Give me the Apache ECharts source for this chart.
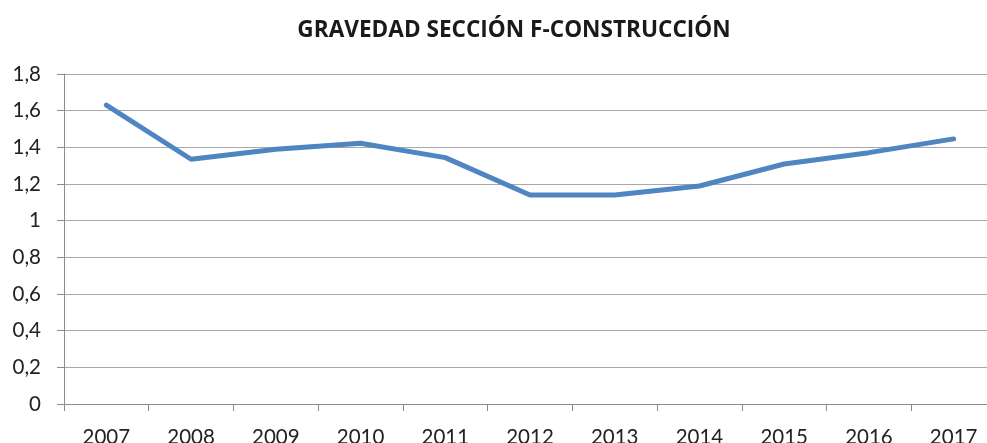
<!DOCTYPE html>
<html>
<head>
<meta charset="utf-8">
<script src="https://cdn.jsdelivr.net/npm/echarts@6/dist/echarts.min.js"></script>
<style>html,body{margin:0;padding:0;background:#fff;}#c{width:987px;height:443px;}</style>
</head>
<body>
<div id="c"></div>
<script>
const titleText = 'GRAVEDAD SECCIÓN F-CONSTRUCCIÓN';
const years = ['2007','2008','2009','2010','2011','2012','2013','2014','2015','2016','2017'];
const gravedad = [1.63, 1.335, 1.39, 1.422, 1.344, 1.14, 1.14, 1.189, 1.309, 1.371, 1.446];
const yMin = 0, yMax = 1.8, yStep = 0.2;

const chart = echarts.init(document.getElementById('c'));
const fnt = 'Lato, "Open Sans", sans-serif';
chart.setOption({
  animation: false,
  backgroundColor: '#fff',
  title: {
    text: titleText, left: 509, top: 14, textAlign: 'center',
    textStyle: {fontFamily: '"Open Sans", sans-serif', fontWeight: 'bold', fontSize: 22.6, color: '#1a1a1a'}
  },
  grid: {left: 64, top: 74, width: 932, height: 330, containLabel: false, outerBoundsMode: 'none'},
  xAxis: {
    type: 'category', data: years, boundaryGap: true,
    axisLine: {lineStyle: {color: '#8c8c8c', width: 1}},
    axisTick: {show: true, length: 7, alignWithLabel: false, lineStyle: {color: '#8c8c8c'}},
    axisLabel: {fontFamily: fnt, fontSize: 20.5, color: '#222', margin: 23, interval: 0}
  },
  yAxis: {
    type: 'value', min: yMin, max: yMax, interval: yStep,
    axisLine: {show: true, lineStyle: {color: '#8c8c8c', width: 1}},
    axisTick: {show: true, length: 7, lineStyle: {color: '#8c8c8c'}},
    splitLine: {show: true, lineStyle: {color: '#a8a8a8', width: 1}},
    axisLabel: {
      fontFamily: fnt, fontSize: 20.5, color: '#222', margin: 23, padding: [8,0,0,0],
      formatter: v => String(+(+v).toFixed(1)).replace('.', ',')
    }
  },
  series: [{
    type: 'line', data: gravedad, showSymbol: false, symbol: 'none',
    lineStyle: {color: '#4f86c1', width: 5, cap: 'round', join: 'round'}
  }]
});
</script>
</body>
</html>
